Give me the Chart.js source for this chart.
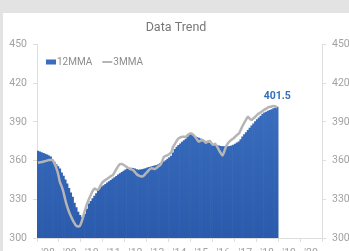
<!DOCTYPE html>
<html>
<head>
<meta charset="utf-8">
<script src="https://cdn.jsdelivr.net/npm/chart.js@4.4.0/dist/chart.umd.min.js"></script>
<style>
  html, body { margin: 0; padding: 0; overflow: hidden; }
  body { width: 349px; height: 251px; background: #e3e3e3; position: relative; }
  #card { position: absolute; left: 3px; top: 13px; width: 346px; height: 250px; background: #fff; }
</style>
</head>
<body>
<div id="card"><canvas id="graph" width="346" height="250"></canvas></div>
<script>
// year tick labels ('08 .. '20), one category per year
const yearLabels = ["'08", "'09", "'10", "'11", "'12", "'13", "'14", "'15", "'16", "'17", "'18", "'19", "'20"];
const seriesNames = ['12MMA', '3MMA'];

// monthly values, Jan 2008 .. Dec 2018
const ma12 = [
  367.4, 366.8, 366.2, 365.6, 365.0, 364.4, 363.7, 363.0, 360.5, 358.8, 357.0, 355.3,
  353.7, 350.5, 348.0, 345.0, 342.0, 338.5, 335.0, 331.8, 327.0, 323.5, 320.0, 317.5,
  316.0, 315.5, 318.5, 322.5, 326.5, 328.5, 330.5, 332.5, 334.5, 336.5, 338.2, 339.6,
  340.7, 341.7, 342.7, 343.8, 344.8, 345.8, 346.8, 347.8, 348.9, 349.9, 351.0, 351.9,
  352.8, 353.6, 354.1, 354.2, 354.0, 353.6, 353.1, 352.7, 352.8, 353.1, 353.5, 353.9,
  354.3, 354.8, 355.2, 355.6, 356.0, 356.4, 356.9, 357.6, 358.3, 359.0, 360.0, 361.1,
  362.3, 363.5, 366.0, 368.8, 370.5, 371.8, 373.0, 374.3, 375.5, 376.7, 378.3, 379.8,
  380.5, 379.8, 378.8, 378.0, 377.4, 376.8, 376.2, 375.4, 374.6, 373.9, 373.3, 372.8,
  372.4, 372.0, 371.7, 371.4, 371.1, 370.9, 370.8, 370.8, 370.8, 371.1, 371.5, 372.0,
  372.8, 373.7, 374.6, 376.3, 378.5, 380.2, 381.8, 383.5, 385.3, 387.0, 388.6, 390.2,
  391.8, 393.2, 394.6, 396.0, 397.0, 397.7, 398.4, 398.9, 399.6, 400.3, 400.9, 401.5
];
const ma3 = [
  358.4, 358.6, 358.9, 359.2, 359.6, 360.0, 360.4, 360.5, 360.5, 358.0, 354.5, 350.0,
  343.5, 340.0, 335.5, 329.5, 324.5, 320.4, 317.0, 314.0, 311.5, 309.5, 309.0, 309.5,
  313.0, 318.0, 322.5, 327.0, 330.5, 333.5, 336.5, 338.3, 337.5, 337.5, 340.0, 342.5,
  344.0, 345.0, 346.0, 347.0, 348.0, 348.8, 351.0, 353.5, 355.8, 357.2, 357.4, 356.6,
  355.7, 354.6, 353.8, 353.3, 352.7, 351.2, 349.6, 348.5, 348.0, 347.6, 348.5, 350.0,
  351.5, 353.0, 354.0, 353.8, 353.5, 354.5, 355.6, 356.5, 359.5, 363.0, 363.6, 364.3,
  365.2, 366.5, 370.8, 373.0, 375.5, 377.2, 378.0, 378.5, 378.5, 378.5, 379.8, 380.8,
  381.0, 380.0, 378.5, 376.5, 374.8, 375.4, 376.0, 375.0, 373.9, 374.8, 375.2, 373.5,
  372.2, 373.0, 371.0, 368.4, 366.0, 364.0, 367.0, 371.0, 373.5, 375.0, 376.2, 377.2,
  378.5, 379.8, 381.0, 383.8, 386.8, 389.5, 392.0, 394.0, 392.3, 391.5, 392.8, 394.0,
  395.5, 396.6, 397.5, 398.5, 399.5, 400.3, 401.2, 401.6, 402.0, 402.3, 402.0, 401.3
];

const graphCanvas = document.getElementById('graph');
const totalMonths = yearLabels.length * 12;
const blue = '#3a6dc0';
const grey = '#b5b5b5';

function blueFill(ctx) {
  const area = ctx.chart.chartArea;
  if (!area) return blue;
  const g = ctx.chart.ctx.createLinearGradient(0, area.top, 0, area.bottom);
  g.addColorStop(0, '#4176c6');
  g.addColorStop(1, '#2a5aab');
  return g;
}

// value label over the last 12MMA bar
const lastLabel = {
  id: 'lastLabel',
  afterDatasetsDraw(chart) {
    const meta = chart.getDatasetMeta(0);
    const bar = meta.data[meta.data.length - 1];
    const ctx = chart.ctx;
    ctx.save();
    ctx.font = 'bold 10.5px Roboto';
    ctx.fillStyle = '#3470b6';
    ctx.textAlign = 'center';
    ctx.textBaseline = 'alphabetic';
    ctx.fillText(ma12[ma12.length - 1].toFixed(1), bar.x, bar.y - 8);
    ctx.restore();
  }
};

// legend sits inside the plot, top left
const insideLegend = {
  id: 'insideLegend',
  afterDraw(chart) {
    const ctx = chart.ctx;
    const a = chart.chartArea;
    const cy = a.top + 17.5;
    let x = a.left + 9;
    ctx.save();
    ctx.font = '10px Roboto';
    ctx.textBaseline = 'middle';
    ctx.fillStyle = blue;
    ctx.fillRect(x, cy - 2.5, 10, 5);
    x += 11;
    ctx.fillStyle = '#8c8c8c';
    ctx.fillText(seriesNames[0], x, cy);
    x += ctx.measureText(seriesNames[0]).width + 10;
    ctx.strokeStyle = grey;
    ctx.lineWidth = 2;
    ctx.beginPath();
    ctx.moveTo(x, cy);
    ctx.lineTo(x + 10, cy);
    ctx.stroke();
    ctx.fillText(seriesNames[1], x + 11, cy);
    ctx.restore();
  }
};

const tickFont = { family: 'Roboto', size: 10.5 };
const tickColor = '#a2a2a2';
const lineColor = '#dedede';

new Chart(graphCanvas, {
  data: {
    datasets: [{
      type: 'bar',
      label: seriesNames[0],
      data: ma12.map((v, i) => ({ x: i + 0.5, y: v })),
      backgroundColor: blueFill,
      borderWidth: 0,
      barPercentage: 1,
      categoryPercentage: 1,
      xAxisID: 'x',
      yAxisID: 'y',
      order: 2
    }, {
      type: 'line',
      label: seriesNames[1],
      data: ma3.map((v, i) => ({ x: i + 0.5, y: v })),
      borderColor: grey,
      borderWidth: 2.5,
      pointRadius: 0,
      tension: 0.3,
      xAxisID: 'x',
      yAxisID: 'y',
      order: 1
    }]
  },
  options: {
    responsive: false,
    animation: false,
    layout: { padding: 0 },
    plugins: {
      title: {
        display: true,
        text: 'Data Trend',
        color: '#777',
        font: { family: 'Roboto', size: 12.5, weight: 'normal' },
        padding: { top: 7, bottom: 9.5 }
      },
      legend: { display: false },
      tooltip: { enabled: false }
    },
    scales: {
      x: {
        type: 'linear',
        min: 0,
        max: totalMonths,
        offset: false,
        display: false
      },
      years: {
        type: 'category',
        labels: yearLabels,
        position: 'bottom',
        offset: true,
        grid: { offset: true, drawOnChartArea: false, tickLength: 4, color: lineColor },
        border: { color: lineColor },
        ticks: { color: tickColor, font: tickFont, padding: 5, autoSkip: false, maxRotation: 0 },
        afterFit(s) { s.height = 25; }
      },
      y: {
        position: 'left',
        min: 300,
        max: 450,
        ticks: { stepSize: 30, color: tickColor, font: tickFont, padding: 6 },
        grid: { drawOnChartArea: false, tickLength: 4, color: lineColor },
        border: { color: lineColor },
        afterFit(s) { s.width = 34; }
      },
      y2: {
        position: 'right',
        min: 300,
        max: 450,
        ticks: { stepSize: 30, color: tickColor, font: tickFont, padding: 6 },
        grid: { drawOnChartArea: false, tickLength: 4, color: lineColor },
        border: { color: lineColor },
        afterFit(s) { s.width = 27; }
      }
    }
  },
  plugins: [lastLabel, insideLegend]
});
</script>
</body>
</html>
